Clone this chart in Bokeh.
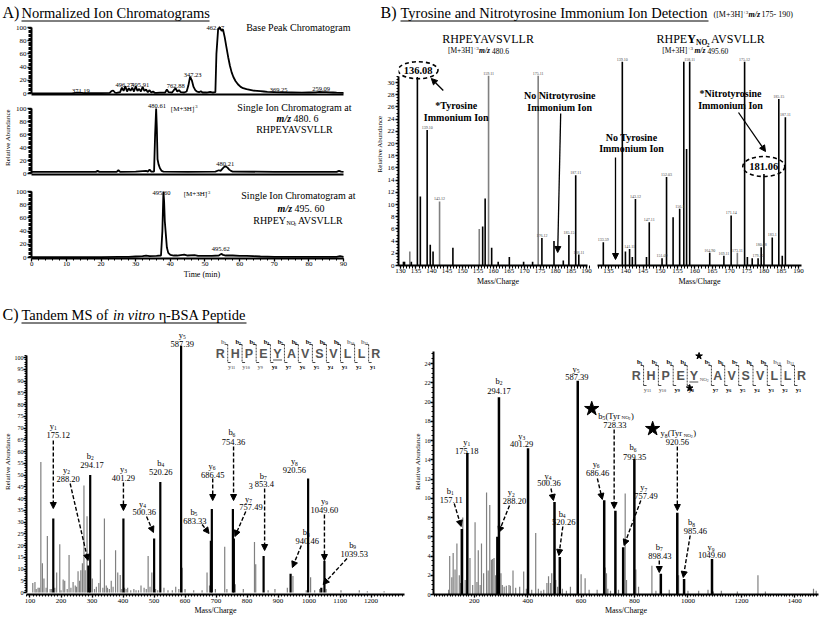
import numpy as np
from bokeh.plotting import figure
from bokeh.layouts import column, row
from bokeh.models import Range1d, Label, Arrow, NormalHead, FixedTicker, ColumnDataSource
from bokeh.embed import file_html
from bokeh.resources import INLINE

SERIF = "Liberation Serif"
SANS = "Liberation Sans"
GRAY = "#808080"

# ======================= DATA =======================
# ---- A) ion chromatograms: time (min) vs relative abundance ----
a1_time = [0, 8, 12, 13.5, 15, 20, 22.5, 23, 23.5, 24, 24.5, 25.5, 26, 26.5, 27, 27.5, 28, 28.5, 29, 29.5,
           30, 30.5, 31, 31.5, 32, 32.5, 33, 33.5, 34, 34.5, 35, 35.5, 36, 37, 38.5, 39, 39.5, 40.5, 41, 41.5,
           42, 42.5, 43, 44, 44.7, 45.2, 45.7, 46.2, 46.7, 47.2, 47.7, 48.3, 48.8, 49.3, 50.5, 51.5, 52.3, 53, 53.3, 53.8,
           54.3, 54.8, 55.2, 55.7, 56.2, 56.7, 57.2, 57.7, 58.2, 58.8, 59.5, 60.3, 61, 62, 63, 64, 65, 66, 67, 68,
           70, 72, 75, 78, 80, 82, 83, 84, 85, 86, 87, 88, 90]
a1_abund = [0.3, 0.3, 0.6, 1.2, 0.5, 0.5, 0.8, 3.5, 4.5, 1.5, 1, 2, 9, 4, 11, 3, 8, 4, 9, 3,
            11, 4, 7, 3, 10, 4, 6, 2, 5, 1.5, 3, 1, 1, 1.2, 1.5, 6, 2, 1.5, 5, 8,
            3, 5, 2, 1.5, 3, 12, 25.5, 20, 10, 5, 3, 2, 3.5, 1.5, 1.5, 2.5, 1.5, 2, 60, 98,
            100, 95, 97, 85, 70, 55, 42, 32, 25, 19, 14, 10, 8, 6.5, 5.5, 4.5, 4, 3.5, 3, 2.5,
            2, 1.8, 1.5, 1.2, 1.5, 1.8, 2.5, 2, 2.2, 1.8, 1.5, 1.2, 1]
a2_time = [0, 18.5, 19, 19.5, 24.5, 25, 25.5, 30, 33, 33.5, 34, 34.5, 35.3, 35.6, 35.9, 36.1, 36.3, 36.6, 37, 37.5,
           38, 45, 53, 54, 54.5, 55, 55.5, 56, 56.5, 57, 57.5, 58, 70, 88, 88.7, 89.3, 90]
a2_abund = [2.5, 2.5, 4, 2.5, 2.5, 5, 2.5, 3, 4, 3, 6, 3, 3, 60, 100, 70, 22, 14, 8, 4,
            3, 2.5, 3, 5, 4, 7, 10, 11, 9, 6, 4, 3, 2.5, 2.5, 4, 3, 2.5]
a3_time = [0, 20, 25, 28, 30, 32, 33, 34, 36, 37.3, 37.7, 38.0, 38.2, 38.4, 38.7, 39, 39.4, 40, 41, 42,
           44, 45, 47, 48, 50, 52, 54, 54.7, 55.2, 56, 58, 60, 62, 64, 66, 70, 80, 88, 89, 90]
a3_abund = [0.5, 0.5, 0.8, 1, 1.5, 2, 3, 2, 2.5, 3, 40, 100, 85, 55, 35, 15, 7, 4, 3, 3,
            4.5, 3, 3.5, 2.5, 2.5, 2.5, 3, 5.5, 4, 3, 3, 2.5, 2.5, 2, 1.5, 1, 0.8, 0.8, 2, 1]
a1_peak_text = ["462.17", "347.23", "762.88", "496.27", "495.91", "371.19", "369.25", "259.09"]
a2_peak_text = ["480.61", "480.21"]
a3_peak_text = ["495.60", "495.62"]
a_ticks = [0, 10, 20, 30, 40, 50, 60, 70, 80, 90]

# ---- B) immonium ion region, m/z vs relative abundance ----
bl_mz = [130.96, 131.3, 133.0, 133.5, 135.45, 136.4, 138.6, 139.6, 140.5, 142.6, 146.9, 155.4, 156.5, 157.3,
         158.4, 159.4, 161.5, 165.1, 169.7, 172.6, 174.4, 175.6, 179.5, 182.5, 184.3, 186.5, 187.5]
bl_int = [0.6, 0.6, 2.3, 0.6, 30.9, 11.3, 22.2, 3.4, 2.3, 10.5, 2.9, 6.0, 6.4, 11.0,
          31.1, 2.9, 0.6, 1.4, 0.6, 0.6, 31.1, 4.5, 4.0, 0.8, 5.0, 14.8, 1.8]
bl_gray = [0, 0, 1, 0, 0, 0, 0, 0, 0, 1, 0, 1, 0, 0, 1, 0, 0, 0, 0, 0, 1, 0, 0, 0, 0, 0, 0]
bl_lab = ["", "", "", "", "", "", "139.10", "", "", "143.12", "", "", "", "",
          "159.11", "", "", "", "", "", "175.11", "176.12", "", "", "185.15", "187.11", "188.11"]
br_mz = [133.5, 139.0, 139.9, 141.1, 141.9, 142.8, 146.0, 146.8, 150.5, 151.8, 153.7, 155.6, 156.8, 157.6, 158.5,
         164.3, 168.4, 170.5, 172.3, 174.4, 175.2, 176.6, 178.3, 179.2, 180.0, 182.4, 184.3, 185.3, 186.2]
br_int = [3.8, 33.4, 2.3, 2.7, 1.4, 10.9, 1.4, 7.1, 1.2, 14.5, 7.9, 9.3, 33.4, 19.1, 33.4,
          2.1, 1.6, 8.2, 2.1, 33.4, 1.4, 1.2, 1.2, 3.0, 15.0, 4.6, 27.3, 1.6, 24.3]
br_gray = [0] * 18 + [1] + [0] * 10
br_lab = ["133.59", "139.10", "", "141.11", "", "143.12", "", "147.11", "151.09", "152.03", "", "156.1", "", "", "158.11",
          "164.90", "169.11", "171.14", "173.11", "175.12", "", "", "179.12", "180.08", "", "183.1", "185.15", "", "187.11"]
b_key_left = "136.08"
b_key_right = "181.06"

# ---- C) tandem MS ----
cl_gray_mz = [109, 116, 126, 135, 140, 145, 152, 156, 165, 186, 196, 207, 212, 226, 239, 255, 264, 269, 274, 278,
              284, 301, 314, 322, 327, 335, 340, 346, 362, 376, 383, 391, 415, 442, 458, 468, 481, 493, 532, 559,
              570, 580, 591, 600, 628, 655, 671, 679, 698, 728, 735, 762, 788, 824, 828, 868, 890, 930, 948, 991,
              1005, 1018, 1034, 1055, 1103, 1162, 1188, 1242,
              120, 130, 170, 180, 200, 220, 232, 246, 250, 260, 292, 308, 350, 356, 368, 396, 405, 410, 425, 435,
              450, 475, 487, 505, 512, 545]
cl_gray_h = [4, 4.5, 2, 55.5, 12.5, 6, 2, 24, 1.5, 8.5, 20.5, 5.5, 5, 16, 4.5, 9, 9.5, 12.5, 45.5, 9.5,
             32.5, 6, 2.5, 4, 14, 2, 31.5, 3, 5, 18, 8.5, 7.5, 2, 1, 3, 2, 15.5, 8.5, 2, 1,
             2.5, 1.5, 10.5, 1.5, 1, 1, 8.5, 3, 1.5, 19.5, 1.5, 3.5, 1.5, 21.5, 12, 1, 1.5, 2, 7, 1,
             6.5, 1, 1.5, 1.5, 1, 1, 0.5, 0.5,
             1.5, 2, 1.5, 2, 1, 1.5, 2, 3, 2.5, 5, 2, 1.5, 2, 1.5, 2.5, 1.5, 2, 1.5, 1, 1.5,
             1, 1.5, 2.5, 1.5, 1, 1]
cl_mz = [175.12, 288.20, 294.17, 401.29, 500.36, 520.26, 587.39, 683.33, 686.45, 754.36, 757.49, 853.4,
         997.0, 940.46, 1049.60, 1039.53]
cl_int = [31.5, 11.5, 50, 31.5, 23, 47, 105, 22, 35.5, 35.5, 23, 15.5, 48.5, 8, 13.5, 2]
cl_ion = ["y1", "y2", "b2", "y3", "y4", "b4", "y5", "b5", "y6", "b6", "y7", "b7", "y8", "b8", "y9", "b9"]
cl_lab = ["175.12", "288.20", "294.17", "401.29", "500.36", "520.26", "587.39", "683.33", "686.45", "754.36",
          "757.49", "853.4", "920.56", "940.46", "1049.60", "1039.53"]

cr_gray_mz = [104, 108, 116, 121, 128, 135, 144, 149, 157, 166, 184, 194, 203, 210, 215, 222, 227, 235, 246, 252,
              258, 264, 269, 274, 280, 300, 305, 312, 320, 330, 335, 345, 355, 370, 385, 395, 415, 430, 440, 450,
              460, 472, 478, 485, 490, 505, 512, 530, 545, 560, 590, 600, 615, 630, 660, 690, 695, 700, 710, 740,
              765, 770, 805, 815, 865, 880, 930, 965, 1000, 1040, 1075, 1095, 1125, 1185, 1262, 1290, 1470, 1480]
cr_gray_h = [0.5, 4.0, 1.8, 4.3, 2.6, 5.3, 2.0, 1.2, 8.0, 1.5, 3.8, 1.0, 7.5, 1.3, 4.6, 1.0, 5.3, 2.2, 10.6, 2.5,
             9.3, 3.6, 3.7, 3.8, 2.0, 2.2, 1.0, 0.8, 0.9, 1.0, 0.9, 2.5, 0.7, 0.8, 2.4, 0.6, 0.5, 6.4, 0.6, 0.4,
             0.5, 1.2, 1.9, 1.2, 2.2, 1.5, 0.8, 0.6, 0.4, 0.8, 2.8, 2.1, 1.7, 0.5, 0.5, 2.8, 2.2, 0.6, 0.4, 0.5,
             10.5, 1.5, 2.6, 0.8, 3.0, 0.4, 0.5, 2.0, 0.4, 0.4, 0.5, 0.3, 0.4, 0.3, 2.0, 0.3, 0.6, 0.4]
cr_mz = [153.4, 174.0, 286.5, 292.4, 401.29, 500.36, 520.26, 587.39, 686.46, 728.33, 757.49, 799.35, 898.43,
         960.0, 985.46, 1090.0]
cr_int = [6.8, 14.7, 6.0, 20.5, 15.2, 9.6, 3.9, 22.2, 9.8, 8.7, 4.9, 14.1, 2.15, 8.5, 1.6, 3.7]
cr_ion = ["b1", "y1", "y2", "b2", "y3", "y4", "b4", "y5", "y6", "b5", "y7", "b6", "b7", "y8", "b8", "y9"]
cr_lab = ["157.11", "175.18", "288.20", "294.17", "401.29", "500.36", "520.26", "587.39", "686.46", "728.33",
          "757.49", "799.35", "898.43", "920.56", "985.46", "1049.60"]
peptide = list("RHPEYAVSVLLR")


# ======================= HELPERS =======================
class Panel:
    def __init__(self, canvas, frame, xcal=((0, 0), (1, 1)), ycal=((0, 0), (1, 1)), xaxis=False, yaxis=False):
        cx0, cy0, w, h = canvas
        fx0, fy0, fx1, fy1 = frame
        (p1, v1), (p2, v2) = xcal
        (q1, u1), (q2, u2) = ycal
        self.sx = (v2 - v1) / (p2 - p1)
        self.px0, self.vx0 = p1, v1
        self.sy = (u2 - u1) / (q2 - q1)
        self.py0, self.vy0 = q1, u1
        self.fig = figure(width=w, height=h, title=None,
                          x_range=Range1d(self.X(fx0), self.X(fx1)),
                          y_range=Range1d(self.Y(fy1), self.Y(fy0)),
                          min_border_left=int(fx0 - cx0), min_border_right=int(cx0 + w - fx1),
                          min_border_top=int(fy0 - cy0), min_border_bottom=int(cy0 + h - fy1),
                          x_axis_location="below" if xaxis else None,
                          y_axis_location="left" if yaxis else None,
                          output_backend="svg", toolbar_location=None)
        f = self.fig
        f.outline_line_color = None
        f.grid.grid_line_color = None
        f.background_fill_color = "white"
        f.border_fill_color = "white"

    def X(self, px):
        return self.vx0 + (px - self.px0) * self.sx

    def Y(self, py):
        return self.vy0 + (py - self.py0) * self.sy

    def W(self, d):
        return abs(d * self.sx)

    def H(self, d):
        return abs(d * self.sy)


def txt(P, px, py, text, size=8, font=SERIF, style="normal", align="center", base="middle", color="black", angle=0):
    P.fig.add_layout(Label(x=P.X(px), y=P.Y(py), text=text, text_font=font, text_font_size=f"{size}px",
                           text_font_style=style, text_align=align, text_baseline=base, text_color=color,
                           angle=angle))


def ion(P, px, py, name, size=8.5, style="normal", color="black"):
    letter, num = name[0], name[1:]
    lw = size * 0.5
    ss = size * 0.65
    sw = ss * 0.5 * len(num)
    start = px - (lw + sw) / 2
    txt(P, start, py, letter, size, style=style, align="left", color=color)
    txt(P, start + lw, py + size * 0.28, num, ss, style=style, align="left", color=color)


def seg(P, x0, y0, x1, y1, width=1.0, color="black", dash="solid"):
    P.fig.segment(x0=[P.X(x0)], y0=[P.Y(y0)], x1=[P.X(x1)], y1=[P.Y(y1)],
                  line_width=width, line_color=color, line_dash=dash)


def arrow(P, x0, y0, x1, y1, dash="solid", width=1.3, head=6):
    P.fig.add_layout(Arrow(end=NormalHead(size=head, fill_color="black", line_color="black", line_width=1),
                           x_start=P.X(x0), y_start=P.Y(y0), x_end=P.X(x1), y_end=P.Y(y1),
                           line_width=width, line_color="black", line_dash=dash))


def oval(P, cx, cy, w, h):
    P.fig.ellipse(x=[P.X(cx)], y=[P.Y(cy)], width=P.W(w), height=P.H(h), fill_color=None,
                  line_color="black", line_width=1.6, line_dash="4 3")


def star(P, px, py, size):
    P.fig.scatter(x=[P.X(px)], y=[P.Y(py)], marker="star", size=size, fill_color="black", line_color="black")


def style_axis(ax, major, minor, size=7, out=4, minor_out=2, lw=1.5, standoff=1, label=None,
               label_size=8, label_standoff=1, bounds=None):
    ax.ticker = FixedTicker(ticks=major, minor_ticks=minor)
    ax.major_label_text_font = SERIF
    ax.major_label_text_font_size = f"{size}px"
    ax.major_label_text_color = "black"
    ax.major_label_standoff = standoff
    ax.major_tick_in = 0
    ax.major_tick_out = out
    ax.minor_tick_in = 0
    ax.minor_tick_out = minor_out
    ax.axis_line_width = lw
    ax.major_tick_line_width = 1.3
    ax.minor_tick_line_width = 1
    if bounds is not None:
        ax.bounds = bounds
    if label:
        ax.axis_label = label
        ax.axis_label_text_font = SERIF
        ax.axis_label_text_font_style = "normal"
        ax.axis_label_text_color = "black"
        ax.axis_label_text_font_size = f"{label_size}px"
        ax.axis_label_standoff = label_standoff


def sticks(P, mz, h, color, width):
    src = ColumnDataSource(dict(x=mz, y0=[0] * len(mz), y1=h))
    P.fig.segment(x0="x", y0="y0", x1="x", y1="y1", line_color=color, line_width=width, source=src)


# ======================= TITLES (A and B) =======================
PT = Panel((0, 0, 820, 22), (0, 0, 820, 22))
txt(PT, 2, 12, "A)", 16, align="left")
txt(PT, 21, 12, "Normalized Ion Chromatograms", 14.5, align="left")
seg(PT, 21, 20.5, 209, 20.5, 1)
txt(PT, 380, 12, "B)", 16, align="left")
txt(PT, 400, 12, "Tyrosine and Nitrotyrosine Immonium Ion Detection", 14.5, align="left")
seg(PT, 400, 20.5, 708, 20.5, 1)
txt(PT, 713, 14, "([M+3H]", 8, align="left")
txt(PT, 742.5, 11.5, "+3", 5, align="left")
txt(PT, 748, 14, "m/z", 8, style="bold italic", align="left")
txt(PT, 761, 14, "175- 190)", 8, align="left")

# ======================= PANEL A =======================
a_major_y = [0, 20, 40, 60, 80, 100]
a_minor_y = np.arange(0, 100.1, 2).tolist()


def a_panel(canvas, frame, ycal, t, ab, last=False, ylabel=None):
    P = Panel(canvas, frame, ((27.3, 0), (342.7, 90)), ycal, True, True)
    f = P.fig
    style_axis(f.yaxis[0], a_major_y, a_minor_y, size=7, out=4, minor_out=3, lw=2, standoff=1,
               label=ylabel, label_size=7, label_standoff=1, bounds=(0, 100))
    if last:
        style_axis(f.xaxis[0], a_ticks, np.arange(0, 90.1, 2).tolist(), size=7, out=3, minor_out=2, lw=2,
                   standoff=0, label="Time (min)", label_size=8, label_standoff=1, bounds=(0, 90))
    else:
        style_axis(f.xaxis[0], [], [], lw=2, bounds=(0, 90))
    f.line(t, ab, line_width=1.8, line_color="black")
    return P


PA1 = a_panel((0, 22, 372, 78), (27, 22, 372, 94), ((93, 0), (27, 100)), a1_time, a1_abund)
for s, (x, y) in zip(a1_peak_text, [(213, 27), (190, 74), (173, 85), (121, 84), (137, 84), (77, 90), (277, 89), (320, 88)]):
    txt(PA1, x, y, s, 6.5)
txt(PA1, 297, 27, "Base Peak Chromatogram", 10)

PA2 = a_panel((0, 100, 372, 78), (27, 100, 372, 174), ((173, 0), (108, 100)), a2_time, a2_abund,
              ylabel="Relative Abundance")
txt(PA2, 154, 105, a2_peak_text[0], 6.5)
txt(PA2, 223, 163.5, a2_peak_text[1], 6.5)
txt(PA2, 168, 108, "[M+3H]", 7, align="left")
txt(PA2, 190, 105.5, "+3", 4.5, align="left")
txt(PA2, 293, 107, "Single Ion Chromatogram at", 10)
txt(PA2, 275, 117.5, "m/z", 10, style="bold italic", align="left")
txt(PA2, 292, 117.5, "480. 6", 10, align="left")
txt(PA2, 293, 128.5, "RHPEYAVSVLLR", 10)

PA3 = a_panel((0, 178, 372, 122), (27, 178, 372, 258), ((257, 0), (191, 100)), a3_time, a3_abund, last=True)
txt(PA3, 158.5, 192, a3_peak_text[0], 6.5)
txt(PA3, 218.5, 248.5, a3_peak_text[1], 6.5)
txt(PA3, 181, 193.5, "[M+3H]", 7, align="left")
txt(PA3, 203, 191.5, "+3", 4.5, align="left")
txt(PA3, 297, 195, "Single Ion Chromatogram at", 10)
txt(PA3, 276, 207.5, "m/z", 10, style="bold italic", align="left")
txt(PA3, 293, 207.5, "495. 60", 10, align="left")
txt(PA3, 284.5, 219.5, "RHPEY", 10, align="right")
txt(PA3, 285, 222.5, "NO", 6, align="left")
txt(PA3, 292.5, 224, "2", 4.5, align="left")
txt(PA3, 296.5, 219.5, "AVSVLLR", 10, align="left")

# ======================= PANEL B =======================
b_ycal = ((265, 0), (82, 30))
PBL = Panel((372, 22, 225, 278), (397, 22, 597, 265), ((399, 130), (586, 190)), b_ycal, True, True)
PBR = Panel((597, 22, 223, 278), (597, 22, 801, 265), ((608, 135), (798, 190)), b_ycal, True, False)
for P in (PBL, PBR):
    style_axis(P.fig.xaxis[0], list(range(130, 191, 5)), list(range(129, 192)), size=7, out=3, minor_out=3,
               lw=2, standoff=0, label="Mass/Charge", label_size=8, label_standoff=1,
               bounds=(129.4, 190.3) if P is PBL else None)
style_axis(PBL.fig.yaxis[0], list(range(0, 31, 2)), np.arange(0, 31.01, 0.5).tolist(), size=7, out=3,
           minor_out=2, lw=2, standoff=1, label="Relative Abundance", label_size=7, label_standoff=1,
           bounds=(0, 31))

for P, mz, h, g, labs in ((PBL, bl_mz, bl_int, bl_gray, bl_lab), (PBR, br_mz, br_int, br_gray, br_lab)):
    sticks(P, [m for m, k in zip(mz, g) if k], [v for v, k in zip(h, g) if k], GRAY, 1.6)
    sticks(P, [m for m, k in zip(mz, g) if not k], [v for v, k in zip(h, g) if not k], "black", 1.6)
    for m, v, s in zip(mz, h, labs):
        if s:
            P.fig.add_layout(Label(x=m, y=v + P.H(1.0), text=s, text_font=SERIF, text_font_size="4px",
                                   text_align="center", text_baseline="bottom"))

# left spectrum annotations
txt(PBL, 487, 38, "RHPEYAVSVLLR", 12)
txt(PBL, 446.7, 50, "[M+3H]", 7.5, align="left")
txt(PBL, 472.3, 47.5, "+3", 5, align="left")
txt(PBL, 478, 50, "m/z", 7.5, style="bold italic", align="left")
txt(PBL, 491, 50, "480.6", 7.5, align="left")
oval(PBL, 416.7, 69.7, 40, 17)
txt(PBL, 416.7, 69.7, b_key_left, 10.5, style="bold")
arrow(PBL, 442, 90, 430, 78)
txt(PBL, 455, 105, "*Tyrosine", 10, style="bold")
txt(PBL, 455, 117, "Immonium Ion", 10, style="bold")
txt(PBL, 559, 95, "No Nitrotyrosine", 10, style="bold")
txt(PBL, 559, 107, "Immonium Ion", 10, style="bold")
arrow(PBL, 560, 113, 557, 252)

# right spectrum annotations
txt(PBR, 686.7, 38, "RHPE", 12, align="right")
txt(PBR, 686.7, 38, "Y", 12, style="bold", align="left")
txt(PBR, 695.5, 42, "NO", 7.5, style="bold", align="left")
txt(PBR, 706.3, 44, "2", 5.5, style="bold", align="left")
txt(PBR, 710.5, 38, "AVSVLLR", 12, align="left")
txt(PBR, 661.7, 50, "[M+3H]", 7.5, align="left")
txt(PBR, 687.3, 47.5, "+3", 5, align="left")
txt(PBR, 694, 50, "m/z", 7.5, style="bold italic", align="left")
txt(PBR, 707, 50, "495.60", 7.5, align="left")
txt(PBR, 631, 136.7, "No Tyrosine", 10, style="bold")
txt(PBR, 631, 148.3, "Immonium Ion", 10, style="bold")
arrow(PBR, 615, 157, 615, 259)
txt(PBR, 730, 93.3, "*Nitrotyrosine", 10, style="bold")
txt(PBR, 730, 105, "Immonium Ion", 10, style="bold")
arrow(PBR, 738, 112, 765, 151)
oval(PBR, 763.3, 166, 42, 20)
txt(PBR, 763.3, 166, b_key_right, 10.5, style="bold")

# ======================= PANEL C =======================
PCT = Panel((0, 300, 820, 28), (0, 300, 820, 328))
txt(PCT, 2, 314, "C)", 16, align="left")
txt(PCT, 21, 314, "Tandem MS of", 14.5, align="left")
txt(PCT, 112.4, 314, "in vitro", 14.5, style="italic", align="left")
txt(PCT, 158.3, 314, "η", 14.5, align="left")
txt(PCT, 165.5, 314, "-BSA Peptide", 14.5, align="left")
seg(PCT, 21, 322.5, 246, 322.5, 1)

PCL = Panel((0, 328, 410, 290), (23, 328, 404, 594), ((50, 175.12), (323.3, 1049.60)), ((592, 0), (357, 100)),
            True, True)
style_axis(PCL.fig.yaxis[0], list(range(0, 101, 5)), list(range(0, 102)), size=6, out=3, minor_out=2, lw=2,
           standoff=0, label="Relative Abundance", label_size=7, label_standoff=0, bounds=(0, 101))
style_axis(PCL.fig.xaxis[0], list(range(100, 1201, 100)), list(range(90, 1301, 10)), size=7, out=3, minor_out=2,
           lw=2, standoff=1, label="Mass/Charge", label_size=8, label_standoff=0)
sticks(PCL, cl_gray_mz, cl_gray_h, GRAY, 1.2)
sticks(PCL, cl_mz, cl_int, "black", 2.2)

cl_pos = [((50, 425), (55, 434.3), (50, 440, 50, 508)),
          ((63.3, 469.3), (65, 478.3), (67, 483, 85, 560)),
          ((87.3, 455), (89, 464), None),
          ((120.7, 468.3), (120.7, 477.7), (120.7, 482, 120.7, 510)),
          ((140, 503.3), (141.7, 511.5), (144, 516, 151, 532)),
          ((158.3, 462.5), (158.3, 471.5), None),
          ((180, 334.5), (180, 343), None),
          ((191.7, 511), (192.7, 520), (200, 524, 207, 533)),
          ((210, 465), (210.7, 474), (210.7, 478, 210.7, 500)),
          ((230, 431.7), (231.7, 441), (231.7, 446, 231.7, 500)),
          ((246.7, 498.3), (249.3, 506.5), (244, 511, 233, 536)),
          ((261.7, 475), (262.7, 483.3), (263, 488, 263, 550)),
          ((293, 460.7), (293, 469), None),
          ((305, 531.7), (306, 540), (300, 545, 291, 567)),
          ((323.3, 500), (323.3, 509.3), (323.3, 514, 323.3, 560)),
          ((351.7, 544.3), (353.3, 553), (346, 558, 322, 584))]
for nm, lab, (p_ion, p_lab, arr) in zip(cl_ion, cl_lab, cl_pos):
    ion(PCL, p_ion[0], p_ion[1], nm, 8.5)
    txt(PCL, p_lab[0], p_lab[1], lab, 8.5)
    if arr:
        arrow(PCL, *arr, dash="4 2", width=1.4, head=6)
txt(PCL, 249, 485, "3", 8)

PCR = Panel((410, 328, 410, 290), (428, 328, 818, 594), ((469.3, 200), (794, 1400)), ((594, 0), (363, 24)),
            True, True)
style_axis(PCR.fig.yaxis[0], list(range(0, 25, 2)), np.arange(0, 25.01, 0.5).tolist(), size=6, out=3,
           minor_out=2, lw=2, standoff=0, label="Relative Abundance", label_size=7, label_standoff=0,
           bounds=(0, 25.2))
style_axis(PCR.fig.xaxis[0], list(range(200, 1401, 200)), list(range(50, 1490, 10)), size=7, out=3, minor_out=2,
           lw=2, standoff=1, label="Mass/Charge", label_size=8, label_standoff=0)
sticks(PCR, cr_gray_mz, cr_gray_h, GRAY, 1.2)
sticks(PCR, cr_mz, cr_int, "black", 2.5)

cr_pos = [((445, 490), (446, 499), (449, 503, 456, 526)),
          ((461.7, 441), (461.7, 450), None),
          ((506.7, 491.7), (510, 500), (505, 505, 494, 532)),
          ((494.3, 380), (494.3, 390), None),
          ((517.3, 435), (517.3, 443.5), None),
          ((544, 475), (545, 482.7), (547, 488, 549.5, 500)),
          ((558.3, 513.3), (560, 521), (559, 526, 555, 555)),
          ((572.3, 368.3), (573.3, 376.7), None),
          ((592.7, 463.3), (594.3, 472.7), (594, 478, 599, 499)),
          (None, (611.7, 424), (611, 429, 611, 508)),
          ((641, 486.7), (643.3, 495), (638, 500, 621, 545)),
          ((630, 446.7), (631.7, 456), None),
          ((656.7, 546), (657.3, 555), (656.7, 560, 656.7, 572)),
          (None, (675, 441.7), (675, 446, 675, 510)),
          ((689.3, 521.7), (693.3, 530), (688, 535, 681, 577)),
          ((709, 546.7), (710, 554.3), None)]
for nm, lab, (p_ion, p_lab, arr) in zip(cr_ion, cr_lab, cr_pos):
    if p_ion:
        ion(PCR, p_ion[0], p_ion[1], nm, 8.5)
    txt(PCR, p_lab[0], p_lab[1], lab, 8.5)
    if arr:
        arrow(PCR, *arr, dash="4 2", width=1.4, head=6)
# nitrated fragments: b5 and y8 carrying nitrotyrosine
for (x0, y0), nm in (((595, 415), "b5"), ((658, 432.7), "y8")):
    txt(PCR, x0, y0, nm[0], 8.5, align="left")
    txt(PCR, x0 + 4.3, y0 + 2.4, nm[1], 5.5, align="left")
    txt(PCR, x0 + 7.2, y0, "(Tyr", 8.5, align="left")
    txt(PCR, x0 + 23.5, y0 + 2, "NO", 5, align="left")
    txt(PCR, x0 + 30.6, y0 + 3, "2", 3.8, align="left")
    txt(PCR, x0 + 33, y0, ")", 8.5, align="left")
star(PCR, 588.3, 408.3, 15)
star(PCR, 650, 428.3, 15)


# fragment maps
def fragment_map(P, lx, ly, sep, ytop, ybot, by, yy, bcol, ycol, nitro):
    for L, x in zip(peptide, lx):
        txt(P, x, ly, L, 12.5, font=SANS, style="bold", color="#555555")
    for i, sx in enumerate(sep):
        seg(P, sx, ytop, sx, ybot, 1, "#444444", "2 1")
        seg(P, sx - 3, ytop, sx, ytop, 1, "#444444")
        seg(P, sx, ybot, sx + 3, ybot, 1, "#444444")
        ion(P, sx - 4, by, "b" + str(i + 1), 6.5, style="bold", color=bcol[i])
        ion(P, sx + 4, yy, "y" + str(11 - i), 6.5, style="bold", color=ycol[i])
    yx = lx[4]
    seg(P, yx - 4.5, ly + 6.5, yx + 4.5, ly + 6.5, 1.2, "#555555")
    if nitro:
        txt(P, yx + 6, ly + 3.5, "NO", 5, color="#555555", align="left")
        txt(P, yx + 13, ly + 5, "2", 3.8, color="#555555", align="left")


lxL = [218.3, 233.3, 247.3, 261.7, 276, 290, 304, 318.3, 332.3, 346.7, 360.7, 375]
sepL = [(a + b) / 2 for a, b in zip(lxL[:-1], lxL[1:])]
fragment_map(PCL, lxL, 353, sepL, 344, 362, 341, 365.5,
             [GRAY] + ["black"] * 8 + [GRAY, GRAY], [GRAY] * 3 + ["black"] * 8, False)
lxR = [633.3, 648.3, 663.3, 678.3, 691.7, 716, 730, 744.3, 759, 773.3, 786.7, 800.7]
sepR = [(a + b) / 2 for a, b in zip(lxR[:-1], lxR[1:])]
sepR[4] = 709.5
fragment_map(PCR, lxR, 375, sepR, 365, 385, 361, 388.5,
             ["black"] * 9 + [GRAY, GRAY], [GRAY] * 2 + ["black"] * 9, True)
star(PCR, 697, 355.5, 7)
star(PCR, 687.5, 387.5, 7)

# ======================= LAYOUT =======================
colA = column(PA1.fig, PA2.fig, PA3.fig)
rowB = row(PBL.fig, PBR.fig)
root = column(PT.fig, row(colA, rowB), PCT.fig, row(PCL.fig, PCR.fig))

open("out.html", "w").write(file_html(root, INLINE))
